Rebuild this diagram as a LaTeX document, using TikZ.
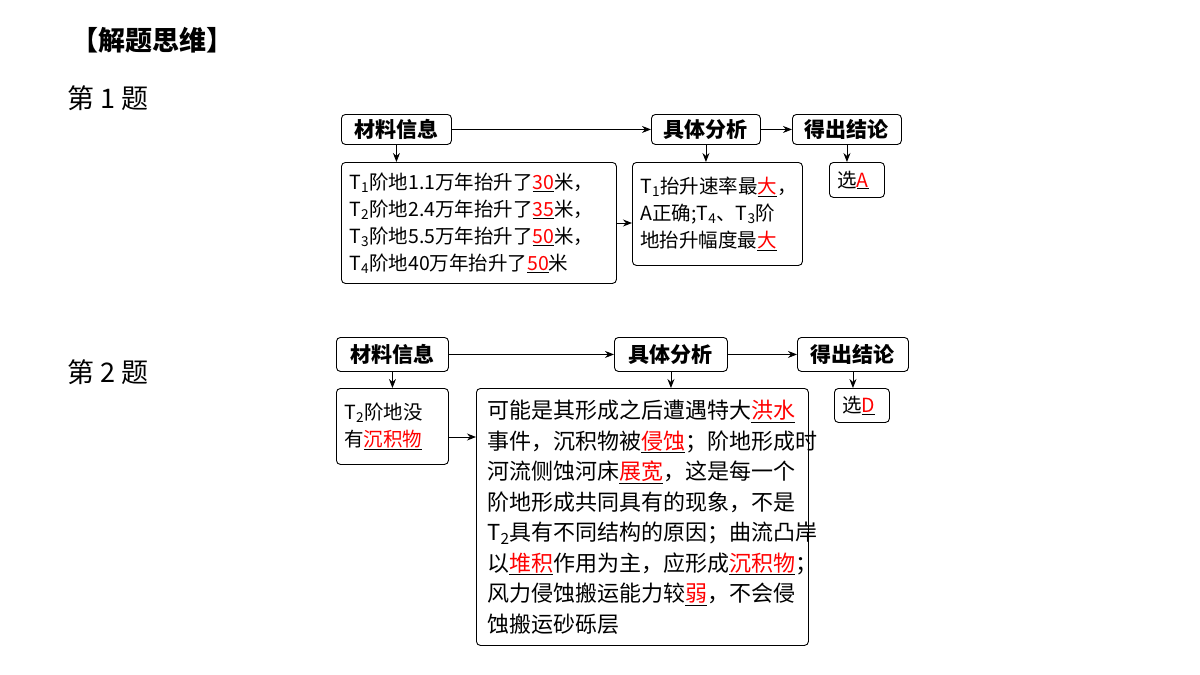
\documentclass[tikz,border=0pt]{standalone}
\usepackage{fontspec}
\setmainfont{Noto Sans CJK SC}
\usetikzlibrary{arrows.meta}
\newcommand{\hl}[1]{\underline{\textcolor{red}{#1}}}
\tikzset{
  box/.style={draw,rounded corners=4pt,line width=0.9pt,inner sep=0pt,anchor=north west},
  head/.style={box,font=\fontsize{21}{24}\selectfont\bfseries,align=center},
  body/.style={box,font=\fontsize{19.5}{27}\selectfont,align=left,inner xsep=8pt,inner ysep=0pt,anchor=north west},
  arr/.style={-{Stealth[length=9pt,width=7pt]},line width=0.9pt}
}
\begin{document}
\begin{tikzpicture}[x=1pt,y=-1pt]
\useasboundingbox (0,0) rectangle (1200,675);
\node[font=\fontsize{27}{30}\selectfont\bfseries,anchor=west] (title) at (68,40) {【解题思维】};
\node[font=\fontsize{27}{30}\selectfont,anchor=west] (q1) at (64,98) {第 1 题};
\node[font=\fontsize{27}{30}\selectfont,anchor=west] (q2) at (64,372) {第 2 题};
% row 1
\node[head,minimum width=110pt,minimum height=30pt] (a1) at (341,114) {材料信息};
\node[head,minimum width=109pt,minimum height=30pt] (b1) at (651,114) {具体分析};
\node[head,minimum width=109pt,minimum height=30pt] (c1) at (792,114) {得出结论};
\node[body,text width=259pt,minimum height=121pt] (A1) at (341,162) {%
T\textsubscript{1}阶地1.1万年抬升了\hl{30}米，\\
T\textsubscript{2}阶地2.4万年抬升了\hl{35}米，\\
T\textsubscript{3}阶地5.5万年抬升了\hl{50}米，\\
T\textsubscript{4}阶地40万年抬升了\hl{50}米};
\node[body,text width=154pt,minimum height=103pt] (B1) at (632,162) {%
T\textsubscript{1}抬升速率最\hl{大}，\\
A正确;T\textsubscript{4}、T\textsubscript{3}阶\\
地抬升幅度最\hl{大}};
\node[body,inner xsep=8pt,text width=39pt,minimum height=35pt] (C1) at (829,162) {选\hl{A}};
\draw[arr] (a1) -- (b1);
\draw[arr] (b1) -- (c1);
\draw[arr] (a1.south) -- (a1.south |- A1.north);
\draw[arr] (b1.south) -- (b1.south |- B1.north);
\draw[arr] (c1.south) -- (c1.south |- C1.north);
\draw[arr] (A1.east |- 0,223) -- (B1.west |- 0,223);
% row 2
\node[head,minimum width=112pt,minimum height=34pt] (a2) at (336,337) {材料信息};
\node[head,minimum width=113pt,minimum height=34pt] (b2) at (614,337) {具体分析};
\node[head,minimum width=111pt,minimum height=34pt] (c2) at (797,337) {得出结论};
\node[body,text width=96pt,minimum height=76pt] (A2) at (336,388) {%
T\textsubscript{2}阶地没\\
有\hl{沉积物}};
\node[body,font=\fontsize{22}{30.5}\selectfont,inner xsep=11pt,text width=310pt,minimum height=257pt] (B2) at (476,388) {%
可能是其形成之后遭遇特大\hl{洪水}\\
事件，沉积物被\hl{侵蚀}；阶地形成时\\
河流侧蚀河床\hl{展宽}，这是每一个\\
阶地形成共同具有的现象，不是\\
T\textsubscript{2}具有不同结构的原因；曲流凸岸\\
以\hl{堆积}作用为主，应形成\hl{沉积物}；\\
风力侵蚀搬运能力较\hl{弱}，不会侵\\
蚀搬运砂砾层};
\node[body,inner xsep=8pt,text width=39pt,minimum height=34pt] (C2) at (834,388) {选\hl{D}};
\draw[arr] (a2) -- (b2);
\draw[arr] (b2) -- (c2);
\draw[arr] (a2.south) -- (a2.south |- A2.north);
\draw[arr] (b2.south) -- (b2.south |- B2.north);
\draw[arr] (c2.south) -- (c2.south |- C2.north);
\draw[arr] (A2.east |- 0,437) -- (B2.west |- 0,437);
\end{tikzpicture}
\end{document}
